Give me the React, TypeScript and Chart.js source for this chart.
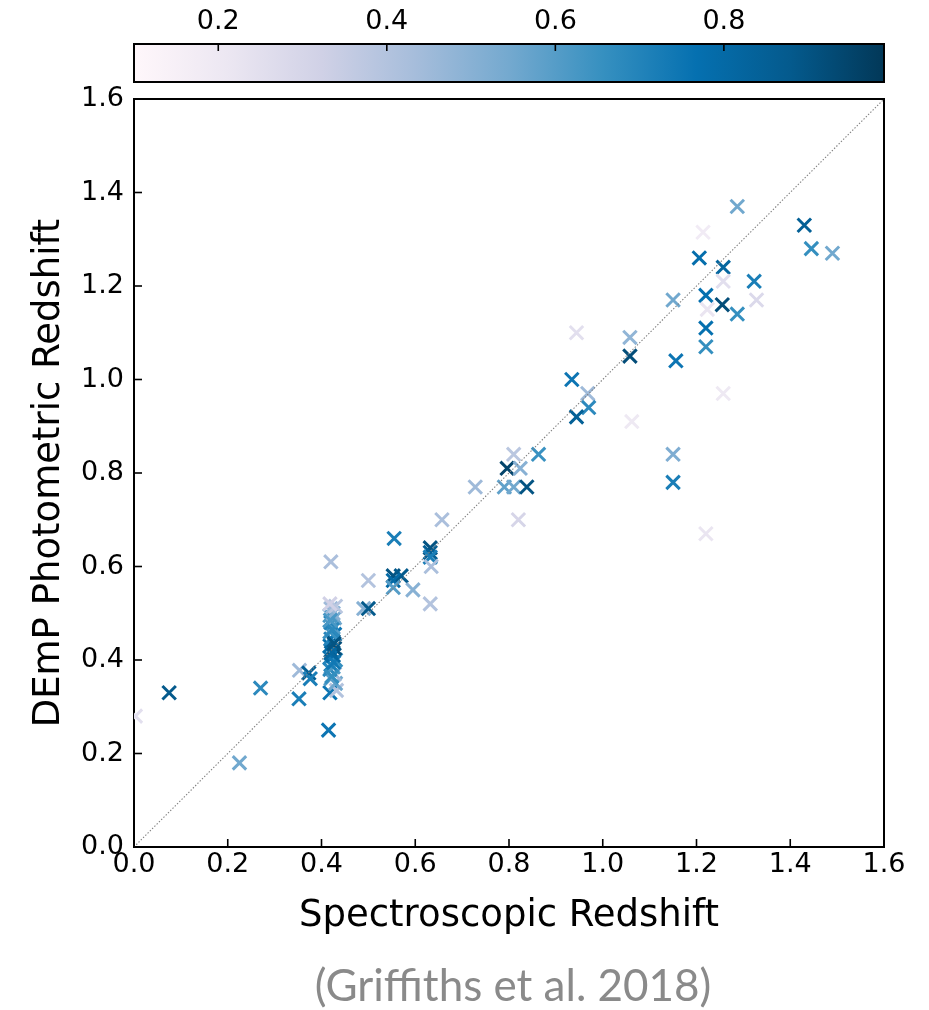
import React, { useEffect, useRef } from "react";
import { Chart, registerables } from "chart.js";

Chart.register(...registerables);

// ---- data ----
const specZ = [
  0.003, 0.075, 0.225, 0.27, 0.353, 0.352, 0.373, 0.376, 0.415,
  0.418, 0.432, 0.43, 0.42, 0.428, 0.418, 0.425, 0.42, 0.43, 0.418, 0.425, 0.42, 0.428, 0.418, 0.425, 0.42,
  0.428, 0.418, 0.425, 0.42, 0.428, 0.418, 0.425, 0.42, 0.43, 0.418, 0.42,
  0.422, 0.426, 0.421, 0.427, 0.423, 0.419,
  0.49, 0.5, 0.5, 0.555, 0.553, 0.57, 0.553, 0.553, 0.595,
  0.632, 0.632, 0.632, 0.634, 0.632, 0.657, 0.728,
  0.796, 0.81, 0.824, 0.79, 0.81, 0.838, 0.863, 0.82,
  0.934, 0.944, 0.968, 0.97, 0.944, 1.062, 1.058, 1.058,
  1.156, 1.15, 1.15, 1.15,
  1.206, 1.214, 1.22, 1.223, 1.22, 1.22, 1.22,
  1.257, 1.257, 1.255, 1.257,
  1.287, 1.287, 1.323, 1.328, 1.43, 1.445, 1.49,
];
const photZ = [
  0.28, 0.33, 0.18, 0.34, 0.378, 0.317, 0.372, 0.36, 0.25,
  0.33, 0.335, 0.35, 0.36, 0.37, 0.38, 0.385, 0.39, 0.4, 0.405, 0.41, 0.42, 0.425, 0.43, 0.44, 0.445,
  0.455, 0.46, 0.47, 0.48, 0.49, 0.495, 0.5, 0.51, 0.515, 0.52, 0.61,
  0.365, 0.395, 0.415, 0.435, 0.465, 0.485,
  0.51, 0.51, 0.57, 0.66, 0.58, 0.58, 0.57, 0.555, 0.55,
  0.64, 0.63, 0.62, 0.6, 0.52, 0.7, 0.77,
  0.81, 0.84, 0.81, 0.77, 0.77, 0.77, 0.84, 0.7,
  1.0, 1.1, 0.97, 0.94, 0.92, 0.91, 1.09, 1.05,
  1.04, 1.17, 0.84, 0.78,
  1.26, 1.315, 1.18, 1.15, 1.11, 1.07, 0.67,
  1.24, 1.21, 1.16, 0.97,
  1.37, 1.14, 1.21, 1.17, 1.33, 1.28, 1.27,
];
const colorVal = [
  0.25, 0.88, 0.55, 0.68, 0.45, 0.72, 0.85, 0.72, 0.75,
  0.75, 0.4, 0.55, 0.6, 0.45, 0.68, 0.62, 0.72, 0.66, 0.7, 0.8, 0.85, 0.92, 0.78, 0.88, 0.7,
  0.75, 0.65, 0.6, 0.7, 0.55, 0.62, 0.5, 0.45, 0.38, 0.32, 0.42,
  0.66, 0.74, 0.82, 0.9, 0.68, 0.62,
  0.5, 0.88, 0.4, 0.72, 0.9, 0.88, 0.8, 0.6, 0.5,
  0.9, 0.85, 0.72, 0.42, 0.4, 0.42, 0.45,
  0.95, 0.38, 0.5, 0.58, 0.55, 0.9, 0.65, 0.3,
  0.75, 0.25, 0.45, 0.68, 0.85, 0.2, 0.48, 0.92,
  0.75, 0.55, 0.52, 0.72,
  0.78, 0.18, 0.77, 0.22, 0.77, 0.66, 0.22,
  0.82, 0.25, 0.92, 0.2,
  0.55, 0.66, 0.72, 0.28, 0.85, 0.66, 0.55,
];
const axisTicks = [0, 0.2, 0.4, 0.6, 0.8, 1.0, 1.2, 1.4, 1.6];
const colorbarTicks = [0.2, 0.4, 0.6, 0.8];
const colorMin = 0.1;
const colorMax = 0.99;
const diagonalEnds = [0, 1.6];
const puBu = ["#fff7fb", "#ece7f2", "#d0d1e6", "#a6bddb", "#74a9cf", "#3690c0", "#0570b0", "#045a8d", "#023858"];

function hexToRgb(h: string) {
  return [parseInt(h.slice(1, 3), 16), parseInt(h.slice(3, 5), 16), parseInt(h.slice(5, 7), 16)];
}
function cmap(v: number) {
  let t = (v - colorMin) / (colorMax - colorMin);
  t = Math.max(0, Math.min(1, t));
  const pos = t * (puBu.length - 1);
  const i = Math.min(puBu.length - 2, Math.floor(pos));
  const f = pos - i;
  const a = hexToRgb(puBu[i]);
  const b = hexToRgb(puBu[i + 1]);
  const c = a.map((av, k) => Math.round(av + (b[k] - av) * f));
  return `rgb(${c[0]},${c[1]},${c[2]})`;
}

const FONT = "DejaVu Sans";

const decorPlugin = {
  id: "decor",
  afterDatasetsDraw(chart: any) {
    const { ctx, chartArea, scales } = chart;
    ctx.save();
    ctx.strokeStyle = "#000";
    ctx.lineWidth = 1.6;
    const tl = 8;
    scales.x.ticks.forEach((t: any) => {
      const px = scales.x.getPixelForValue(t.value);
      ctx.beginPath();
      ctx.moveTo(px, chartArea.bottom);
      ctx.lineTo(px, chartArea.bottom - tl);
      ctx.stroke();
    });
    scales.y.ticks.forEach((t: any) => {
      const py = scales.y.getPixelForValue(t.value);
      ctx.beginPath();
      ctx.moveTo(chartArea.left, py);
      ctx.lineTo(chartArea.left + tl, py);
      ctx.stroke();
    });
    ctx.restore();
  },
  afterDraw(chart: any) {
    const { ctx } = chart;
    const cb = chart.scales.cb;
    const barTop = cb.bottom - 55;
    const barBottom = cb.bottom - 17;
    ctx.save();
    const g = ctx.createLinearGradient(cb.left, 0, cb.right, 0);
    puBu.forEach((c, i) => g.addColorStop(i / (puBu.length - 1), c));
    ctx.fillStyle = g;
    ctx.fillRect(cb.left, barTop, cb.right - cb.left, barBottom - barTop);
    ctx.strokeStyle = "#000";
    ctx.lineWidth = 2;
    ctx.strokeRect(cb.left, barTop, cb.right - cb.left, barBottom - barTop);
    ctx.lineWidth = 1.6;
    colorbarTicks.forEach((v) => {
      const px = cb.getPixelForValue(v);
      ctx.beginPath();
      ctx.moveTo(px, barTop);
      ctx.lineTo(px, barTop + 7);
      ctx.stroke();
    });
    ctx.restore();
  },
};

export default function App() {
  const ref = useRef<HTMLCanvasElement | null>(null);

  useEffect(() => {
    if (!ref.current) return;
    const points = specZ.map((x, i) => ({ x, y: photZ[i] }));
    const colors = colorVal.map(cmap);
    const chart = new Chart(ref.current, {
      type: "scatter",
      data: {
        datasets: [
          {
            data: diagonalEnds.map((v) => ({ x: v, y: v })),
            showLine: true,
            borderColor: "#808080",
            borderWidth: 1.1,
            borderDash: [1.4, 1.8],
            pointRadius: 0,
            xAxisID: "x",
            yAxisID: "y",
          } as any,
          {
            data: points,
            pointStyle: "crossRot",
            pointRadius: 9.5,
            pointBorderWidth: 3,
            pointBorderColor: colors,
            pointBackgroundColor: colors,
            xAxisID: "x",
            yAxisID: "y",
          } as any,
        ],
      },
      options: {
        responsive: false,
        animation: false,
        events: [],
        layout: { padding: { top: 0, left: 0, right: 45, bottom: 0 } },
        plugins: { legend: { display: false }, tooltip: { enabled: false }, title: { display: false } },
        scales: {
          x: {
            type: "linear",
            position: "bottom",
            min: 0,
            max: 1.6,
            afterBuildTicks: (s: any) => { s.ticks = axisTicks.map((v) => ({ value: v })); },
            afterFit: (s: any) => { s.height = 163; },
            grid: { display: false, drawTicks: false },
            border: { display: true, color: "#000", width: 2 },
            ticks: {
              autoSkip: false,
              maxRotation: 0,
              padding: 2,
              color: "#000",
              font: { family: FONT, size: 27 },
              callback: (v: any) => Number(v).toFixed(1),
            },
            title: {
              display: true,
              text: "Spectroscopic Redshift",
              color: "#000",
              font: { family: FONT, size: 37 },
              padding: { top: 0, bottom: 71 },
            },
          },
          y: {
            type: "linear",
            position: "left",
            min: 0,
            max: 1.6,
            afterBuildTicks: (s: any) => { s.ticks = axisTicks.map((v) => ({ value: v })); },
            afterFit: (s: any) => { s.width = 134; },
            grid: { display: false, drawTicks: false },
            border: { display: true, color: "#000", width: 2 },
            ticks: {
              autoSkip: false,
              padding: 10,
              color: "#000",
              font: { family: FONT, size: 27 },
              callback: (v: any) => Number(v).toFixed(1),
            },
            title: {
              display: true,
              text: "DEmP Photometric Redshift",
              color: "#000",
              font: { family: FONT, size: 37 },
              padding: { top: 27, bottom: 0 },
            },
          },
          y2: {
            type: "linear",
            position: "right",
            min: 0,
            max: 1.6,
            afterFit: (s: any) => { s.width = 0; },
            grid: { display: false, drawTicks: false },
            border: { display: true, color: "#000", width: 2 },
            ticks: { display: false },
          },
          cb: {
            type: "linear",
            position: "top",
            min: colorMin,
            max: colorMax,
            afterBuildTicks: (s: any) => { s.ticks = colorbarTicks.map((v) => ({ value: v })); },
            afterFit: (s: any) => { s.height = 99; },
            grid: { display: false, drawTicks: false },
            border: { display: true, color: "#000", width: 2 },
            ticks: {
              autoSkip: false,
              maxRotation: 0,
              padding: 61,
              color: "#000",
              font: { family: FONT, size: 27 },
              callback: (v: any) => Number(v).toFixed(1),
            },
          },
        },
      } as any,
      plugins: [decorPlugin],
    });
    return () => chart.destroy();
  }, []);

  return (
    <div style={{ position: "absolute", left: 0, top: 0, width: 929, height: 1010, background: "#fff" }}>
      <canvas ref={ref} width={929} height={1010} style={{ display: "block" }} />
      <div
        style={{
          position: "absolute",
          left: 213,
          width: 600,
          top: 958,
          height: 52,
          lineHeight: "52px",
          textAlign: "center",
          color: "#8a8a8a",
          fontFamily: "Lato, 'Open Sans', sans-serif",
          fontSize: 44,
          whiteSpace: "nowrap",
        }}
      >
        (Griffiths et al. 2018)
      </div>
    </div>
  );
}
